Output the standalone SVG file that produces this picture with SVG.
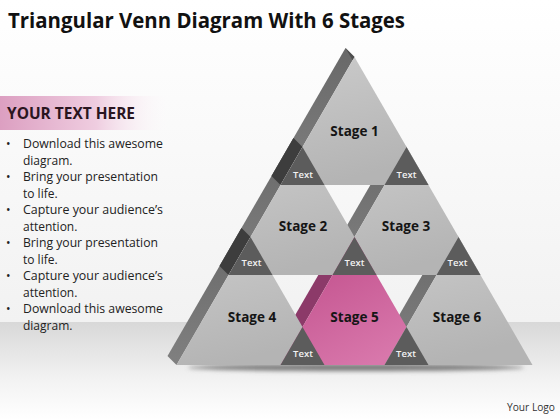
<svg xmlns="http://www.w3.org/2000/svg" width="560" height="420" viewBox="0 0 560 420">
  <defs>
    <linearGradient id="bgTop" x1="0" y1="0" x2="0" y2="1">
      <stop offset="0" stop-color="#ffffff"/>
      <stop offset="1" stop-color="#f2f2f2"/>
    </linearGradient>
    <linearGradient id="bgBand" x1="0" y1="0" x2="0" y2="1">
      <stop offset="0" stop-color="#d8d8d8"/>
      <stop offset="0.6" stop-color="#f3f3f3"/>
      <stop offset="1" stop-color="#ffffff"/>
    </linearGradient>
    <linearGradient id="header" x1="0" y1="0" x2="1" y2="0">
      <stop offset="0" stop-color="#dc9fc1"/>
      <stop offset="0.55" stop-color="#efcde0"/>
      <stop offset="1" stop-color="#ffffff" stop-opacity="0"/>
    </linearGradient>
    <linearGradient id="face" x1="0" y1="0" x2="0.3" y2="1">
      <stop offset="0" stop-color="#cbcbcb"/>
      <stop offset="1" stop-color="#b4b4b4"/>
    </linearGradient>
    <linearGradient id="pink" x1="0" y1="0" x2="0.6" y2="1">
      <stop offset="0" stop-color="#bd4886"/>
      <stop offset="1" stop-color="#d877ab"/>
    </linearGradient>
    <linearGradient id="side" x1="0" y1="0" x2="0" y2="1">
      <stop offset="0" stop-color="#686868"/>
      <stop offset="1" stop-color="#808080"/>
    </linearGradient>
    <filter id="blur" x="-20%" y="-200%" width="140%" height="500%">
      <feGaussianBlur stdDeviation="2.2"/>
    </filter>
    <style>
      .face { fill: url(#face); }
      .pinkface { fill: url(#pink); }
      .side { fill: url(#side); }
      .sidedark { fill: #3d3d3d; }
      .pinkside { fill: #8c3a69; }
      .txttri { fill: #5c5c5c; }
      .stage { font-family: "Open Sans", "Noto Sans", "Liberation Sans", sans-serif; font-weight: bold; font-size: 13.5px; fill: #151515; text-anchor: middle; }
      .tl { font-family: "Open Sans", "Noto Sans", "Liberation Sans", sans-serif; font-weight: 600; font-size: 9.5px; fill: #f2f2f2; text-anchor: middle; }
      .bul { font-family: "Open Sans", "Noto Sans", "Liberation Sans", sans-serif; font-size: 12px; fill: #222222; }
    </style>
  </defs>

  <!-- background -->
  <rect x="0" y="0" width="560" height="322" fill="url(#bgTop)"/>
  <rect x="0" y="322" width="560" height="98" fill="url(#bgBand)"/>

  <!-- title -->
  <text x="8" y="28" font-family="'Open Sans', 'Noto Sans', 'Liberation Sans', sans-serif" font-weight="bold" font-size="21" fill="#111111" textLength="397" lengthAdjust="spacingAndGlyphs">Triangular Venn Diagram With 6 Stages</text>

  <!-- left text panel -->
  <g id="textpanel">
    <rect x="0" y="96" width="175" height="34" fill="url(#header)"/>
    <text x="7" y="119" font-family="'Open Sans', 'Noto Sans', 'Liberation Sans', sans-serif" font-weight="bold" font-size="16" fill="#2a1520" textLength="128" lengthAdjust="spacingAndGlyphs">YOUR TEXT HERE</text>
    <g class="bul">
      <text x="6" y="148">•</text>
      <text x="23" y="148" textLength="140" lengthAdjust="spacingAndGlyphs">Download this awesome</text>
      <text x="23" y="164.5">diagram.</text>
      <text x="6" y="181">•</text>
      <text x="23" y="181" textLength="135" lengthAdjust="spacingAndGlyphs">Bring your presentation</text>
      <text x="23" y="197.5">to life.</text>
      <text x="6" y="214">•</text>
      <text x="23" y="214" textLength="140" lengthAdjust="spacingAndGlyphs">Capture your audience’s</text>
      <text x="23" y="230.5">attention.</text>
      <text x="6" y="247">•</text>
      <text x="23" y="247" textLength="135" lengthAdjust="spacingAndGlyphs">Bring your presentation</text>
      <text x="23" y="263.5">to life.</text>
      <text x="6" y="280">•</text>
      <text x="23" y="280" textLength="140" lengthAdjust="spacingAndGlyphs">Capture your audience’s</text>
      <text x="23" y="296.5">attention.</text>
      <text x="6" y="313">•</text>
      <text x="23" y="313" textLength="140" lengthAdjust="spacingAndGlyphs">Download this awesome</text>
      <text x="23" y="329.5">diagram.</text>
    </g>
  </g>

  <!-- shadow under pyramid -->
  <ellipse cx="356" cy="367.5" rx="168" ry="3.5" fill="#7a7a7a" filter="url(#blur)"/>

  <!-- 3D side faces -->
  <g id="sides">
    <polygon class="side" points="354.5,57 345.5,48 271.5,176 280.5,185"/>
    <polygon class="side" points="302.5,147 293.5,138 219.5,266 228.5,275"/>
    <polygon class="side" points="250.5,237 241.5,228 167.5,356 176.5,365"/>
    <polygon class="side" points="406.5,147 397.5,138 323.5,266 332.5,275"/>
    <polygon class="pinkside" points="354.5,237 345.5,228 271.5,356 280.5,365"/>
    <polygon class="side" points="458.5,237 449.5,228 375.5,356 384.5,365"/>
    <polygon class="sidedark" points="302.5,147 293.5,138 271.5,176 280.5,185"/>
    <polygon class="sidedark" points="250.5,237 241.5,228 219.5,266 228.5,275"/>
    <polygon fill="#4e4e4e" points="354.5,57 345.5,48 352.6,60.3"/>
  </g>

  <!-- stages -->
  <g id="stage1">
    <polygon class="face" points="354.5,57 428.5,185 280.5,185"/>
    <text class="stage" x="354.5" y="135.5">Stage 1</text>
  </g>
  <g id="stage2">
    <polygon class="face" points="302.5,147 376.5,275 228.5,275"/>
    <text class="stage" x="303" y="231">Stage 2</text>
  </g>
  <g id="stage3">
    <polygon class="face" points="406.5,147 480.5,275 332.5,275"/>
    <text class="stage" x="406" y="231">Stage 3</text>
  </g>
  <g id="stage4">
    <polygon class="face" points="250.5,237 324.5,365 176.5,365"/>
    <text class="stage" x="252" y="321.5">Stage 4</text>
  </g>
  <g id="stage5">
    <polygon class="pinkface" points="354.5,237 428.5,365 280.5,365"/>
    <text class="stage" x="354.5" y="321.5">Stage 5</text>
  </g>
  <g id="stage6">
    <polygon class="face" points="458.5,237 532.5,365 384.5,365"/>
    <text class="stage" x="457" y="321.5">Stage 6</text>
  </g>

  <!-- overlap "Text" triangles -->
  <g id="overlap12">
    <polygon class="txttri" points="302.5,147 324.5,185 280.5,185"/>
    <text class="tl" x="303" y="177.5">Text</text>
  </g>
  <g id="overlap13">
    <polygon class="txttri" points="406.5,147 428.5,185 384.5,185"/>
    <text class="tl" x="406.5" y="177.5">Text</text>
  </g>
  <g id="overlap24">
    <polygon class="txttri" points="250.5,237 272.5,275 228.5,275"/>
    <text class="tl" x="251.5" y="266">Text</text>
  </g>
  <g id="overlap235">
    <polygon class="txttri" points="354.5,237 376.5,275 332.5,275"/>
    <text class="tl" x="354.5" y="266">Text</text>
  </g>
  <g id="overlap36">
    <polygon class="txttri" points="458.5,237 480.5,275 436.5,275"/>
    <text class="tl" x="457.5" y="266">Text</text>
  </g>
  <g id="overlap45">
    <polygon class="txttri" points="302.5,327 324.5,365 280.5,365"/>
    <text class="tl" x="303" y="357">Text</text>
  </g>
  <g id="overlap56">
    <polygon class="txttri" points="406.5,327 428.5,365 384.5,365"/>
    <text class="tl" x="406" y="357">Text</text>
  </g>

  <g id="connectors"/>

  <text x="507" y="411" font-family="'Open Sans', 'Noto Sans', 'Liberation Sans', sans-serif" font-size="11" fill="#333333" textLength="48" lengthAdjust="spacingAndGlyphs">Your Logo</text>
</svg>
